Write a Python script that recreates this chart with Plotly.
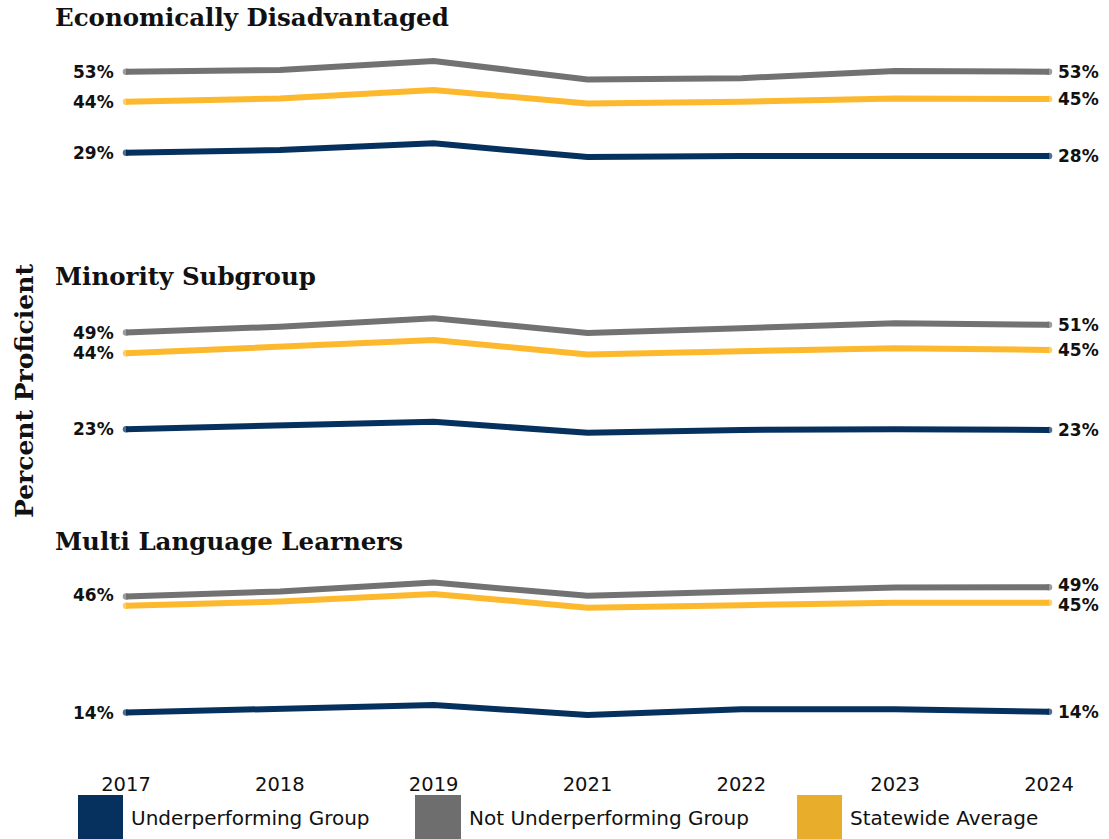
import plotly.graph_objects as go

# ---- data -------------------------------------------------------------
years = ["2017", "2018", "2019", "2021", "2022", "2023", "2024"]

econ_under = [29.0, 29.8, 31.8, 27.7, 28.0, 28.0, 28.0]
econ_not = [53.0, 53.5, 56.2, 50.7, 51.1, 53.2, 53.0]
econ_state = [44.1, 45.1, 47.6, 43.6, 44.1, 45.1, 44.9]

minority_under = [23.2, 24.1, 25.2, 22.2, 23.0, 23.2, 23.0]
minority_not = [49.3, 50.9, 53.2, 49.2, 50.5, 51.8, 51.4]
minority_state = [43.7, 45.5, 47.3, 43.4, 44.1, 45.1, 44.6]

mll_under = [13.9, 14.8, 16.0, 13.2, 14.8, 14.8, 14.1]
mll_not = [46.3, 47.7, 50.2, 46.5, 47.7, 48.8, 48.9]
mll_state = [43.7, 44.9, 47.0, 43.2, 43.9, 44.6, 44.6]

panel_titles = ["Economically Disadvantaged", "Minority Subgroup", "Multi Language Learners"]
series_names = ["Underperforming Group", "Not Underperforming Group", "Statewide Average"]

panels = [
    (econ_under, econ_not, econ_state),
    (minority_under, minority_not, minority_state),
    (mll_under, mll_not, mll_state),
]

# ---- styling ----------------------------------------------------------
W, H = 1109, 839
NAVY = "#06305E"
GRAY = "#727272"
GOLD = "#FDB92E"
LEGEND_COLORS = [NAVY, "#6E6E6E", "#E9AD2C"]
LINE_COLORS = [NAVY, GRAY, GOLD]
SERIF = "DejaVu Serif"
SANS = "DejaVu Sans"
TXT = "#111111"
LW = 6


def py(px):
    """Convert a top-origin pixel row to paper y."""
    return 1 - px / H


def pxx(px):
    return px / W


# vertical placement of each panel: (top px, bottom px, y-range)
panel_axes = [
    (50, 175, [22.4, 59.44]),
    (300, 445, [18.92, 58.11]),
    (565, 730, [9.02, 55.11]),
]
title_rows = [18, 276, 541]

fig = go.Figure()
annotations = []

for p, (series, (top, bot, yr)) in enumerate(zip(panels, panel_axes)):
    yname = "y" if p == 0 else f"y{p + 1}"
    for s_idx, vals in enumerate(series):
        n = len(vals)
        fig.add_trace(go.Scatter(
            x=years, y=vals, xaxis="x", yaxis=yname,
            mode="lines+markers",
            line=dict(color=LINE_COLORS[s_idx], width=LW),
            marker=dict(color=LINE_COLORS[s_idx],
                        size=[LW + 0.5] + [0] * (n - 2) + [LW + 0.5],
                        line=dict(width=0)),
            cliponaxis=False, hoverinfo="skip", showlegend=False,
            name=series_names[s_idx],
        ))

    # value labels at both ends; the statewide label is dropped when it
    # would sit on top of the not-underperforming label, and the two are
    # eased apart a little when they are close
    under, not_under, state = series
    for xi, anchor, shift in [(0, "right", -11), (len(years) - 1, "left", 8)]:
        gap = abs(not_under[xi] - state[xi])
        for s_idx, vals in enumerate(series):
            if s_idx == 2 and gap < 3:
                continue
            nudge = 0
            if gap < 5 and s_idx in (1, 2):
                nudge = 2 if s_idx == 1 else -2
            annotations.append(dict(
                x=xi, y=vals[xi], xref="x", yref=yname,
                text=f"<b>{round(vals[xi])}%</b>", showarrow=False,
                xanchor=anchor, yanchor="middle", xshift=shift, yshift=nudge,
                borderpad=0,
                font=dict(family=SANS, size=17, color=TXT),
            ))

    annotations.append(dict(
        x=pxx(53), y=py(title_rows[p]), xref="paper", yref="paper",
        text=f"<b>{panel_titles[p]}</b>", showarrow=False,
        xanchor="left", yanchor="middle",
        font=dict(family=SERIF, size=24.5, color=TXT),
    ))

# axis title
annotations.append(dict(
    x=pxx(24), y=py(391), xref="paper", yref="paper",
    text="<b>Percent Proficient</b>", showarrow=False, textangle=-90,
    xanchor="center", yanchor="middle",
    font=dict(family=SERIF, size=25, color=TXT),
))

# legend: tall colour blocks with labels
legend_blocks = [(78, 123, 129), (415, 461, 467), (797, 842, 848)]
shapes = []
for (x0, x1, tx), col, name in zip(legend_blocks, LEGEND_COLORS, series_names):
    shapes.append(dict(type="rect", xref="paper", yref="paper",
                       x0=pxx(x0), x1=pxx(x1), y0=0, y1=py(795),
                       fillcolor=col, line=dict(width=0), layer="above"))
    annotations.append(dict(
        x=pxx(tx), y=py(818), xref="paper", yref="paper",
        text=name, showarrow=False, xanchor="left", yanchor="middle",
        font=dict(family=SANS, size=20, color=TXT),
    ))

hidden_y = dict(showticklabels=False, showgrid=False, zeroline=False,
                showline=False, ticks="", fixedrange=True, automargin=False)
layout_axes = {}
for p, (top, bot, yr) in enumerate(panel_axes):
    key = "yaxis" if p == 0 else f"yaxis{p + 1}"
    layout_axes[key] = dict(domain=[py(bot), py(top)], range=yr,
                            anchor="x", **hidden_y)

x_px0, x_px6 = 126, 1049
step = (x_px6 - x_px0) / 6
fig.update_layout(
    width=W, height=H,
    margin=dict(l=0, r=0, t=0, b=0, autoexpand=False),
    paper_bgcolor="white", plot_bgcolor="white",
    showlegend=False,
    xaxis=dict(
        type="category", categoryorder="array", categoryarray=years,
        range=[-0.1, 6.1],
        domain=[pxx(x_px0 - 0.1 * step), pxx(x_px6 + 0.1 * step)],
        anchor="free", position=py(770), automargin=False,
        showgrid=False, zeroline=False, showline=False, ticks="",
        tickfont=dict(family=SANS, size=19.5, color=TXT),
        fixedrange=True,
    ),
    annotations=annotations,
    shapes=shapes,
    **layout_axes,
)

fig.write_html("out.html")
